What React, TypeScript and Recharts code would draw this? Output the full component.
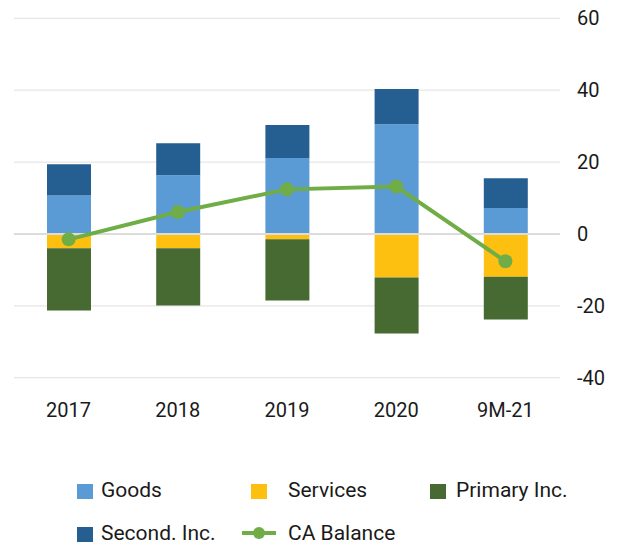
import {
  ComposedChart,
  Bar,
  Line,
  XAxis,
  YAxis,
  CartesianGrid,
  ReferenceLine,
} from 'recharts'

const categories = ['2017', '2018', '2019', '2020', '9M-21']
const goods = [10.7, 16.3, 21.1, 30.5, 7.2]
const secondInc = [8.7, 8.9, 9.2, 9.8, 8.3]
const services = [-4.0, -4.0, -1.5, -12.1, -11.9]
const primaryInc = [-17.3, -15.9, -17.0, -15.6, -11.9]
const caBalance = [-1.5, 6.1, 12.4, 13.2, -7.6]
const yTicks = [-40, -20, 0, 20, 40, 60]

const COLORS = {
  goods: '#5B9BD5',
  services: '#FDC010',
  primary: '#466A31',
  second: '#255E91',
  ca: '#70AD47',
}

const FONT = 'Roboto, "Noto Sans", sans-serif'
const TEXT = '#1a1a1a'

const data = categories.map((c, i) => ({
  name: c,
  goods: goods[i],
  services: services[i],
  primary: primaryInc[i],
  second: secondInc[i],
  ca: caBalance[i],
}))

function Swatch({ color, x, top, label, textX }: { color: string; x: number; top: number; label: string; textX: number }) {
  return (
    <>
      <div style={{ position: 'absolute', left: x, top, width: 16, height: 15, background: color }} />
      <div style={{ position: 'absolute', left: textX, top: top - 6, lineHeight: '24px', fontSize: 21, color: TEXT, whiteSpace: 'nowrap' }}>
        {label}
      </div>
    </>
  )
}

export default function App() {
  return (
    <div style={{ position: 'absolute', left: 0, top: 0, width: 621, height: 546, fontFamily: FONT, background: '#fff' }}>
      <ComposedChart
        width={621}
        height={546}
        data={data}
        stackOffset="sign"
        margin={{ top: 18.3, right: 0, bottom: 108.3, left: 14 }}
      >
        <CartesianGrid vertical={false} stroke="#e6e6e6" strokeWidth={1.2} />
        <XAxis
          dataKey="name"
          axisLine={false}
          tickLine={false}
          tickSize={0}
          tickMargin={25}
          height={60}
          tick={{ fill: TEXT, fontSize: 20, fontFamily: FONT }}
        />
        <YAxis
          orientation="right"
          domain={[-40, 60]}
          ticks={yTicks}
          axisLine={false}
          tickLine={false}
          tickSize={0}
          tickMargin={17}
          width={61}
          tick={{ fill: TEXT, fontSize: 20, fontFamily: FONT }}
        />
        <ReferenceLine y={0} stroke="#dcdcdc" strokeWidth={2} />
        <Bar dataKey="goods" stackId="a" fill={COLORS.goods} barSize={44} isAnimationActive={false} />
        <Bar dataKey="services" stackId="a" fill={COLORS.services} barSize={44} isAnimationActive={false} />
        <Bar dataKey="primary" stackId="a" fill={COLORS.primary} barSize={44} isAnimationActive={false} />
        <Bar dataKey="second" stackId="a" fill={COLORS.second} barSize={44} isAnimationActive={false} />
        <Line
          type="linear"
          dataKey="ca"
          stroke={COLORS.ca}
          strokeWidth={4}
          dot={{ r: 7, fill: COLORS.ca, stroke: COLORS.ca, strokeWidth: 0 }}
          isAnimationActive={false}
        />
      </ComposedChart>

      {/* legend laid out as in the source: three columns, two rows */}
      <Swatch color={COLORS.goods} x={77} top={484} label="Goods" textX={101} />
      <Swatch color={COLORS.services} x={251} top={484} label="Services" textX={288} />
      <Swatch color={COLORS.primary} x={430} top={484} label="Primary Inc." textX={456} />
      <Swatch color={COLORS.second} x={77} top={527} label="Second. Inc." textX={101} />
      <div style={{ position: 'absolute', left: 242, top: 531, width: 34, height: 4, background: COLORS.ca }} />
      <div style={{ position: 'absolute', left: 253, top: 527, width: 12, height: 12, borderRadius: '50%', background: COLORS.ca }} />
      <div style={{ position: 'absolute', left: 288, top: 521, lineHeight: '24px', fontSize: 21, color: TEXT, whiteSpace: 'nowrap' }}>
        CA Balance
      </div>
    </div>
  )
}
